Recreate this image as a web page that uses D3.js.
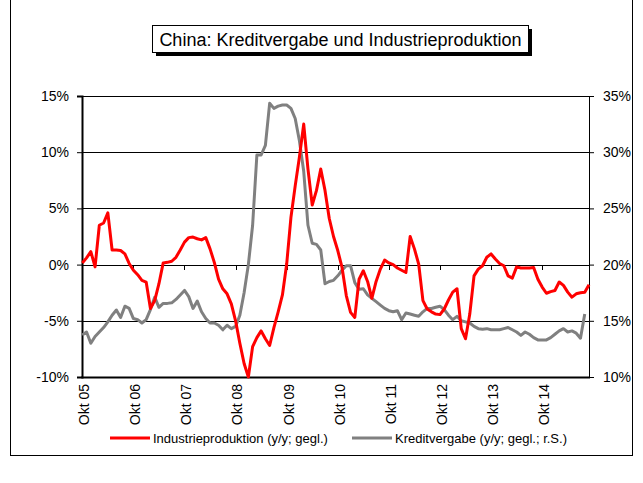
<!DOCTYPE html>
<html lang="de">
<head>
    <meta charset="UTF-8">
    <script src="https://cdnjs.cloudflare.com/ajax/libs/d3/7.8.5/d3.min.js"></script>
    <style>
        body { margin: 0; background: #fff; }
        text { font-family: Arial, "Liberation Sans", sans-serif; fill: #000; }
    </style>
    <title>China: Kreditvergabe und Industrieproduktion</title>
</head>
<body>
<div id="chart"></div>
<script>
// monthly, starting Okt 2005
var industrie = [
    0.15, 0.6, 1.15, -0.2, 3.5, 3.7, 4.6, 1.3, 1.3, 1.25,
    0.95, 0.1, -0.5, -0.9, -1.4, -1.55, -3.9, -3.2, -1.7, 0.15,
    0.2, 0.3, 0.65, 1.3, 2.0, 2.4, 2.45, 2.3, 2.2, 2.4,
    1.4, 0.2, -1.3, -2.15, -2.6, -3.5, -5.0, -7.0, -8.8, -10.0,
    -7.3, -6.5, -5.9, -6.6, -7.2, -5.6, -4.2, -2.7, 0.05, 4.2,
    7.0, 9.6, 12.5, 8.5, 5.3, 6.6, 8.5, 6.6, 4.1, 2.5,
    1.25, -0.25, -2.75, -4.25, -4.7, -1.3, -0.55, -1.5, -3.0, -1.5,
    -0.4, 0.4, 0.15, 0.0, -0.3, -0.5, -0.7, 2.5, 1.4, 0.05,
    -3.2, -3.95, -4.2, -4.4, -4.45, -3.95, -3.15, -2.45, -2.15, -5.7,
    -6.6, -4.4, -1.0, -0.4, -0.1, 0.65, 0.95, 0.5, 0.1, -0.1,
    -1.0, -1.2, -0.2, -0.3, -0.3, -0.3, -0.25, -1.3, -2.0, -2.55,
    -2.4, -2.3, -1.55, -1.85, -2.45, -2.9, -2.6, -2.5, -2.45, -1.8
];

var kredit = [
    13.74, 14.0, 13.0, 13.6, 14.0, 14.4, 14.9, 15.5, 15.96, 15.3,
    16.3, 16.1, 15.2, 15.1, 14.8, 15.1, 16.0, 17.1, 16.2, 16.55,
    16.55, 16.6, 16.9, 17.3, 17.7, 17.15, 16.1, 16.75, 15.8, 15.2,
    14.8, 14.8, 14.6, 14.2, 14.6, 14.3, 14.5, 15.5, 17.5, 20.0,
    23.5, 29.75, 29.75, 30.6, 34.35, 33.9, 34.1, 34.2, 34.2, 33.9,
    33.0, 31.0, 28.3, 23.5, 21.9, 21.8, 21.3, 18.3, 18.5, 18.6,
    19.0, 19.5, 19.9, 19.9, 18.4, 17.8, 17.85, 17.3, 17.0, 16.7,
    16.4, 16.1, 15.9, 15.8, 15.9, 15.1, 15.7, 15.6, 15.5, 15.4,
    15.8, 16.1, 16.1, 16.2, 16.3, 16.0, 15.5, 15.1, 15.4, 15.0,
    14.9, 14.8, 14.5, 14.3, 14.25, 14.3, 14.2, 14.2, 14.2, 14.3,
    14.4, 14.2, 14.0, 13.7, 14.0, 13.8, 13.5, 13.3, 13.3, 13.3,
    13.5, 13.8, 14.1, 14.3, 14.0, 14.1, 13.9, 13.45, 15.6
];

var xTickLabels = ["Okt 05", "Okt 06", "Okt 07", "Okt 08", "Okt 09", "Okt 10", "Okt 11", "Okt 12", "Okt 13", "Okt 14"];
var leftTicks = [-10, -5, 0, 5, 10, 15];
var rightTicks = [10, 15, 20, 25, 30, 35];

function drawChart() {
    var width = 643,
        height = 483,
        pLeft = 82.3,
        pRight = 589,
        pTop = 96,
        pBottom = 377;

    var svg = d3.select('#chart')
        .append('svg')
        .attr('width', width)
        .attr('height', height);

    // outer chart frame
    svg.append('rect')
        .attr('x', 10.5)
        .attr('y', -1)
        .attr('width', 622)
        .attr('height', 456.5)
        .attr('fill', 'none')
        .attr('stroke', '#000')
        .attr('stroke-width', 1);

    var x = d3.scaleLinear().domain([0, industrie.length - 1]).range([pLeft, pRight]);
    var yL = d3.scaleLinear().domain([-10, 15]).range([pBottom, pTop]);
    var yR = d3.scaleLinear().domain([10, 35]).range([pBottom, pTop]);

    // gridlines
    svg.append('g')
        .selectAll('line')
        .data(leftTicks)
        .enter()
        .append('line')
        .attr('x1', pLeft)
        .attr('x2', pRight)
        .attr('y1', function (d) { return Math.round(yL(d)) + 0.5; })
        .attr('y2', function (d) { return Math.round(yL(d)) + 0.5; })
        .attr('stroke', '#000')
        .attr('stroke-width', 1);

    // left axis
    var axL = svg.append('g')
        .attr('transform', 'translate(' + Math.round(pLeft) + ',0)')
        .call(d3.axisLeft(yL).tickValues(leftTicks).tickSize(5).tickPadding(8)
            .tickFormat(function (d) { return d + '%'; }));
    axL.select('.domain').attr('stroke', '#000').attr('stroke-width', 2);
    axL.selectAll('text').style('font-size', '14px').attr('fill', '#000');

    // right axis
    var axR = svg.append('g')
        .attr('transform', 'translate(' + Math.round(pRight) + ',0)')
        .call(d3.axisRight(yR).tickValues(rightTicks).tickSize(5).tickPadding(9)
            .tickFormat(function (d) { return d + '%'; }));
    axR.select('.domain').attr('stroke', '#000').attr('stroke-width', 1);
    axR.selectAll('text').style('font-size', '14px').attr('fill', '#000');

    // category axis crossing at 0%
    var tickIdx = xTickLabels.map(function (d, i) { return i * 12; });
    svg.append('g')
        .selectAll('line')
        .data(tickIdx)
        .enter()
        .append('line')
        .attr('x1', function (d) { return Math.round(x(d)) + 0.5; })
        .attr('x2', function (d) { return Math.round(x(d)) + 0.5; })
        .attr('y1', Math.round(yL(0)))
        .attr('y2', Math.round(yL(0)) + 5)
        .attr('stroke', '#000');

    svg.append('g')
        .selectAll('text')
        .data(xTickLabels)
        .enter()
        .append('text')
        .attr('transform', function (d, i) {
            return 'translate(' + (x(i * 12) + 2) + ',' + (pBottom + 7) + ') rotate(-90)';
        })
        .attr('dy', '0.35em')
        .attr('text-anchor', 'end')
        .style('font-size', '14px')
        .text(function (d) { return d; });

    // bottom frame line
    svg.append('line')
        .attr('x1', pLeft - 1)
        .attr('x2', pRight + 1)
        .attr('y1', pBottom + 0.5)
        .attr('y2', pBottom + 0.5)
        .attr('stroke', '#000')
        .attr('stroke-width', 2);

    // series
    var lineL = d3.line()
        .x(function (d, i) { return x(i); })
        .y(function (d) { return yL(d); });
    var lineR = d3.line()
        .x(function (d, i) { return x(i); })
        .y(function (d) { return yR(d); });

    svg.append('path')
        .datum(kredit)
        .attr('d', lineR)
        .attr('fill', 'none')
        .attr('stroke', '#808080')
        .attr('stroke-width', 3)
        .attr('stroke-linejoin', 'round');

    svg.append('path')
        .datum(industrie)
        .attr('d', lineL)
        .attr('fill', 'none')
        .attr('stroke', '#ff0000')
        .attr('stroke-width', 3)
        .attr('stroke-linejoin', 'round');

    // title box with shadow
    svg.append('rect')
        .attr('x', 156)
        .attr('y', 29)
        .attr('width', 376)
        .attr('height', 27)
        .attr('fill', '#000');
    svg.append('rect')
        .attr('x', 152.5)
        .attr('y', 25.5)
        .attr('width', 376)
        .attr('height', 27)
        .attr('fill', '#fff')
        .attr('stroke', '#000')
        .attr('stroke-width', 1);
    svg.append('text')
        .attr('x', 340.5)
        .attr('y', 46)
        .attr('text-anchor', 'middle')
        .style('font-size', '18px')
        .text('China: Kreditvergabe und Industrieproduktion');

    // legend
    var legendItems = [
        { name: 'Industrieproduktion (y/y; gegl.)', color: '#ff0000', x: 110 },
        { name: 'Kreditvergabe (y/y; gegl.; r.S.)', color: '#808080', x: 352 }
    ];
    var lg = svg.append('g')
        .selectAll('g')
        .data(legendItems)
        .enter()
        .append('g')
        .attr('transform', function (d) { return 'translate(' + d.x + ',438)'; });
    lg.append('line')
        .attr('x1', 0)
        .attr('x2', 40)
        .attr('stroke', function (d) { return d.color; })
        .attr('stroke-width', 3);
    lg.append('text')
        .attr('x', 43)
        .attr('dy', '0.35em')
        .style('font-size', '13px')
        .text(function (d) { return d.name; });
}
drawChart();
</script>
</body>
</html>
